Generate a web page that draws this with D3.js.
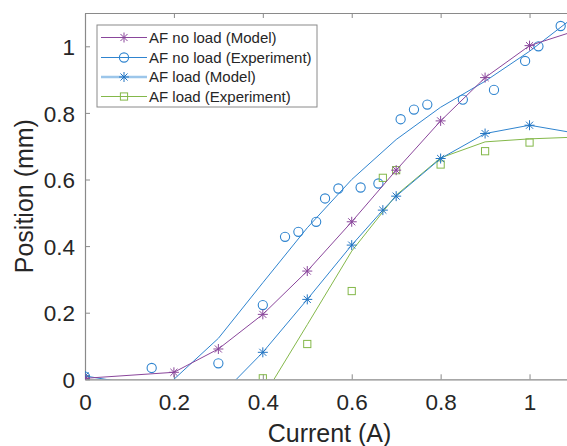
<!DOCTYPE html>
<html>
<head>
<meta charset="utf-8">
<script src="https://cdn.jsdelivr.net/npm/d3@7/dist/d3.min.js"></script>
<style>
    body { margin: 0; background: #fff; }
    svg text { font-family: Arial, "Liberation Sans", Helvetica, sans-serif; fill: #262626; }
</style>
</head>
<body>
<svg id="chart" width="567" height="446"></svg>
<script>
// tick labels
var xTicks = [0, 0.2, 0.4, 0.6, 0.8, 1];
var yTicks = [0, 0.2, 0.4, 0.6, 0.8, 1];

// AF no load (Model) - asterisks on a line
var noLoadModelX = [0, 0.2, 0.3, 0.4, 0.5, 0.6, 0.7, 0.8, 0.9, 1.0, 1.1];
var noLoadModelY = [0.003, 0.021, 0.091, 0.195, 0.325, 0.473, 0.628, 0.776, 0.906, 1.002, 1.045];

// AF no load (Experiment) - measured circles and the fitted line
var noLoadExpX = [0, 0.15, 0.3, 0.4, 0.45, 0.48, 0.52, 0.54, 0.57, 0.62, 0.66, 0.71, 0.74, 0.77, 0.85, 0.92, 0.99, 1.02, 1.07];
var noLoadExpY = [0.008, 0.034, 0.048, 0.223, 0.428, 0.443, 0.473, 0.543, 0.573, 0.576, 0.588, 0.781, 0.81, 0.825, 0.84, 0.869, 0.956, 1.0, 1.061];
var noLoadFitX = [0.2, 0.3, 0.4, 0.5, 0.6, 0.7, 0.8, 0.9, 1.0, 1.1];
var noLoadFitY = [0, 0.123, 0.29, 0.455, 0.6, 0.72, 0.817, 0.895, 0.985, 1.088];

// AF load (Model)
var loadModelX = [0, 0.3, 0.4, 0.5, 0.6, 0.67, 0.7, 0.8, 0.9, 1.0, 1.1];
var loadModelY = [0.01, -0.055, 0.081, 0.24, 0.403, 0.508, 0.55, 0.663, 0.738, 0.763, 0.74];

// AF load (Experiment) - squares and fitted line
var loadExpX = [0, 0.4, 0.5, 0.6, 0.67, 0.7, 0.8, 0.9, 1.0];
var loadExpY = [0, 0.003, 0.106, 0.265, 0.605, 0.628, 0.645, 0.685, 0.711];
var loadFitX = [0.4, 0.5, 0.6, 0.7, 0.8, 0.9, 1.0, 1.1];
var loadFitY = [-0.055, 0.164, 0.385, 0.553, 0.665, 0.713, 0.722, 0.727];

var legendNames = ["AF no load (Model)", "AF no load (Experiment)", "AF load (Model)", "AF load (Experiment)"];

var PURPLE = "#8a469b", BLUE = "#2f84cf", GREEN = "#84b84a", AXIS = "#8a8a8a";

(function(){
    var svg = d3.select("#chart");
    var left = 85, right = 574, top = 13, bottom = 379.3;

    var x = d3.scaleLinear().domain([0, 1.1]).range([left, right]);
    var y = d3.scaleLinear().domain([0, 1.1]).range([bottom, top]);

    function zip(xs, ys){
        return xs.map(function(v, i){ return [v, ys[i]]; });
    }

    svg.append("defs").append("clipPath").attr("id", "plotClip")
        .append("rect")
        .attr("x", left).attr("y", top)
        .attr("width", right - left).attr("height", bottom - top);

    // axes box with inward ticks (MATLAB style)
    var axes = svg.append("g");
    axes.append("g").attr("transform", "translate(0," + bottom + ")")
        .call(d3.axisBottom(x).tickValues(xTicks).tickSizeInner(-5).tickSizeOuter(0).tickFormat(d3.format("~g")))
        .call(styleAxis)
        .selectAll("text").attr("dy", 0).attr("y", 31).style("font-size", "22.5px");
    axes.append("g").attr("transform", "translate(0," + top + ")")
        .call(d3.axisTop(x).tickValues(xTicks).tickSizeInner(-5).tickSizeOuter(0).tickFormat(""))
        .call(styleAxis);
    axes.append("g").attr("transform", "translate(" + left + ",0)")
        .call(d3.axisLeft(y).tickValues(yTicks).tickSizeInner(-5).tickSizeOuter(0).tickFormat(d3.format("~g")))
        .call(styleAxis)
        .selectAll("text").attr("x", -10).attr("dy", "0.36em").style("font-size", "22.5px");
    axes.append("g").attr("transform", "translate(" + right + ",0)")
        .call(d3.axisRight(y).tickValues(yTicks).tickSizeInner(-5).tickSizeOuter(0).tickFormat(""))
        .call(styleAxis);

    function styleAxis(g){
        g.select(".domain").attr("stroke", AXIS).attr("stroke-width", 1.2);
        g.selectAll(".tick line").attr("stroke", AXIS).attr("stroke-width", 1);
    }

    svg.append("text").attr("x", (left + right) / 2).attr("y", 442)
        .attr("text-anchor", "middle").style("font-size", "25px").text("Current (A)");
    svg.append("text").attr("transform", "translate(33," + ((top + bottom) / 2) + ") rotate(-90)")
        .attr("text-anchor", "middle").style("font-size", "25px").text("Position (mm)");

    // marker shapes
    function asterisk(g, cx, cy, r, color){
        var d = r * 0.7071;
        g.append("path")
            .attr("d", "M" + (cx - r) + "," + cy + "h" + (2 * r) +
                       "M" + cx + "," + (cy - r) + "v" + (2 * r) +
                       "M" + (cx - d) + "," + (cy - d) + "l" + (2 * d) + "," + (2 * d) +
                       "M" + (cx - d) + "," + (cy + d) + "l" + (2 * d) + "," + (-2 * d))
            .attr("stroke", color).attr("stroke-width", 1).attr("fill", "none");
    }
    function circle(g, cx, cy, color){
        g.append("circle").attr("cx", cx).attr("cy", cy).attr("r", 4.6)
            .attr("stroke", color).attr("stroke-width", 1.1).attr("fill", "none");
    }
    function square(g, cx, cy, color){
        g.append("rect").attr("x", cx - 3.6).attr("y", cy - 3.6).attr("width", 7.2).attr("height", 7.2)
            .attr("stroke", color).attr("stroke-width", 1).attr("fill", "none");
    }

    var line = d3.line().x(function(d){ return x(d[0]); }).y(function(d){ return y(d[1]); });
    var plot = svg.append("g").attr("clip-path", "url(#plotClip)");

    function drawLine(pts, color, w){
        plot.append("path").datum(pts).attr("d", line)
            .attr("fill", "none").attr("stroke", color).attr("stroke-width", w);
    }

    drawLine(zip(noLoadFitX, noLoadFitY), BLUE, 1);
    zip(noLoadExpX, noLoadExpY).forEach(function(p){ circle(plot, x(p[0]), y(p[1]), BLUE); });

    drawLine(zip(loadFitX, loadFitY), GREEN, 1);
    zip(loadExpX, loadExpY).forEach(function(p){ square(plot, x(p[0]), y(p[1]), GREEN); });

    drawLine(zip(loadModelX, loadModelY), BLUE, 1);
    zip(loadModelX, loadModelY).forEach(function(p){ asterisk(plot, x(p[0]), y(p[1]), 5, "#2274c2"); });

    drawLine(zip(noLoadModelX, noLoadModelY), PURPLE, 1);
    zip(noLoadModelX, noLoadModelY).forEach(function(p){ asterisk(plot, x(p[0]), y(p[1]), 5, PURPLE); });

    // legend
    var lg = svg.append("g");
    lg.append("rect").attr("x", 97).attr("y", 25).attr("width", 220).attr("height", 82)
        .attr("fill", "#fff").attr("stroke", AXIS).attr("stroke-width", 1);
    var rowY = [37.5, 57.5, 77, 96.5];
    var legColors = [PURPLE, BLUE, "#9cc6ea", GREEN];
    legendNames.forEach(function(name, i){
        var yy = rowY[i];
        lg.append("line").attr("x1", 101).attr("x2", 147).attr("y1", yy).attr("y2", yy)
            .attr("stroke", legColors[i]).attr("stroke-width", i === 2 ? 2.5 : 1);
        if(i === 0) asterisk(lg, 124, yy, 5, PURPLE);
        if(i === 1) circle(lg, 124, yy, BLUE);
        if(i === 2) asterisk(lg, 124, yy, 5, "#2274c2");
        if(i === 3) square(lg, 124, yy, GREEN);
        lg.append("text").attr("x", 149).attr("y", yy).attr("dy", "0.36em")
            .style("font-size", "15px").text(name);
    });
})();
</script>
</body>
</html>
